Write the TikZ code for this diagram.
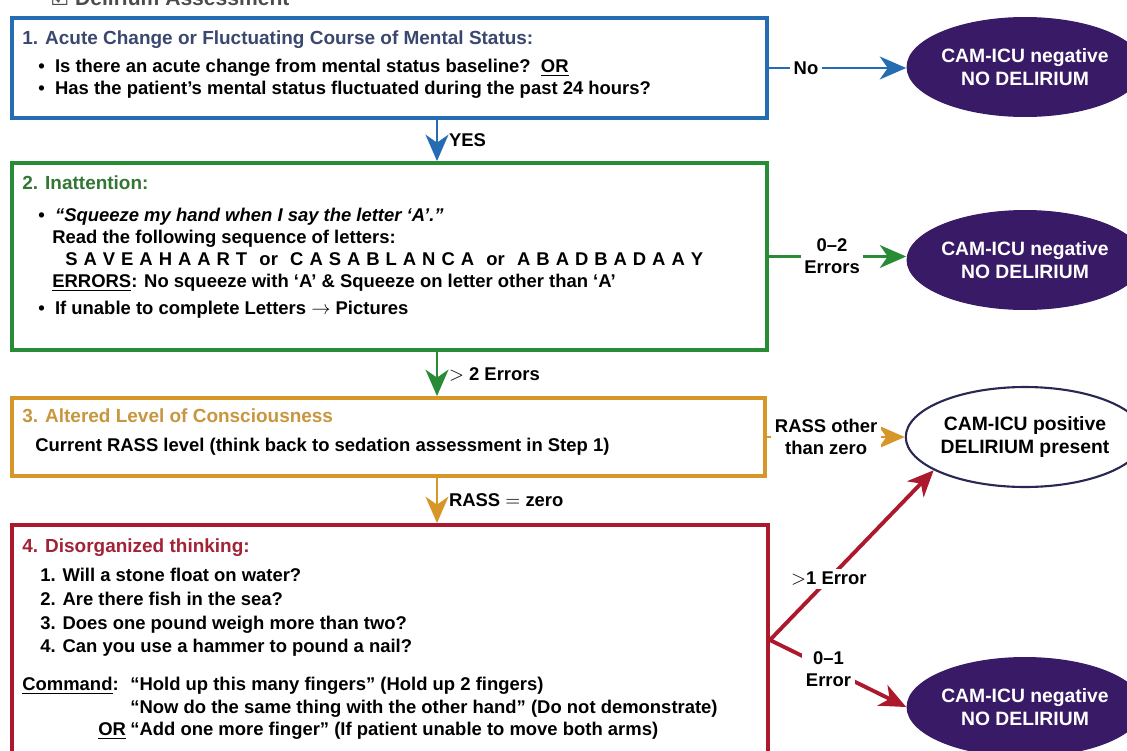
\documentclass[tikz,border=0pt]{standalone}
\usepackage{fontspec}
\setmainfont{Liberation Sans}
\newfontfamily\symfont{DejaVu Sans}
\usepackage{tikz}
\usetikzlibrary{positioning, arrows.meta, shapes.geometric, fit}

\definecolor{cblue}{RGB}{38,108,178}
\definecolor{tblue}{RGB}{58,72,112}
\definecolor{cgreen}{RGB}{40,140,55}
\definecolor{tgreen}{RGB}{52,118,52}
\definecolor{corange}{RGB}{214,150,40}
\definecolor{torange}{RGB}{200,150,62}
\definecolor{cred}{RGB}{172,24,44}
\definecolor{tred}{RGB}{162,34,54}
\definecolor{cpurple}{RGB}{56,26,102}
\definecolor{cnavy}{RGB}{40,40,82}

\tikzstyle{stepbox} = [rectangle, inner sep=0pt, line width=2.2pt,
fill=white]
\tikzstyle{txt} = [anchor=mid west, inner sep=0pt,
font=\bfseries\fontsize{10.5}{12.5}\selectfont]
\tikzstyle{steptitle} = [txt, font=\bfseries\fontsize{10.8}{13}\selectfont]
\tikzstyle{lbl} = [fill=white, text=black, align=center, inner sep=2pt,
font=\bfseries\fontsize{10.5}{12.5}\selectfont]
\tikzstyle{verdict} = [ellipse, minimum width=4.5cm,
minimum height=2cm, inner sep=0pt, align=center,
font=\bfseries\fontsize{11}{13}\selectfont]
\tikzstyle{negverdict} = [verdict, fill=cpurple, text=white]
\tikzstyle{posverdict} = [verdict, fill=white, draw=cnavy,
line width=1.2pt]
\tikzstyle{arrow} = [line width=1.7pt,
-{Stealth[length=15pt,width=13pt,inset=4.5pt]}]

\begin{document}
\begin{tikzpicture}[x=0.02cm, y=-0.02cm]
\useasboundingbox (0,0) rectangle (1127,751);

\node[anchor=base west, inner sep=0pt,
font=\bfseries\fontsize{12}{14}\selectfont, text=black!70] (head)
at (50,5) {{\symfont ☑}\ Delirium Assessment};

% step boxes
\node (b1) [stepbox, draw=cblue, fit={(12,18) (767,118)}] {};
\node (b2) [stepbox, draw=cgreen, fit={(12,163) (767,350)}] {};
\node (b3) [stepbox, draw=corange, fit={(12,398) (765,476)}] {};
\node (b4) [stepbox, draw=cred, fit={(12,525) (768,755)}] {};

% step 1
\node (t1) [steptitle, text=tblue] at (22,40)
{1. Acute Change or Fluctuating Course of Mental Status:};
\node (q1a) [txt] at (38,68)
{\textbullet\ \ Is there an acute change from mental status baseline?\ \ \underline{OR}};
\node (q1b) [txt] at (38,90)
{\textbullet\ \ Has the patient’s mental status fluctuated during the past 24 hours?};

% step 2
\node (t2) [steptitle, text=tgreen] at (22,185) {2. Inattention:};
\node (q2a) [txt] at (38,217)
{\textbullet\ \ \textit{“Squeeze my hand when I say the letter ‘A’.”}};
\node (q2b) [txt] at (52,239) {Read the following sequence of letters:};
\node (q2c) [txt] at (65,261)
{{\spaceskip=3.4pt S A V E A H A A R T\hspace{7pt}or\hspace{7pt}C A S A B L A N C A\hspace{7pt}or\hspace{7pt}A B A D B A D A A Y}};
\node (q2d) [txt] at (52,283)
{\underline{ERRORS}: No squeeze with ‘A’ \& Squeeze on letter other than ‘A’};
\node (q2e) [txt] at (38,310)
{\textbullet\ \ If unable to complete Letters $\rightarrow$ Pictures};

% step 3
\node (t3) [steptitle, text=torange] at (22,418)
{3. Altered Level of Consciousness};
\node (q3) [txt] at (35,447)
{Current RASS level (think back to sedation assessment in Step 1)};

% step 4
\node (t4) [steptitle, text=tred] at (22,548) {4. Disorganized thinking:};
\node (q4a) [txt] at (40,577) {1. Will a stone float on water?};
\node (q4b) [txt] at (40,601) {2. Are there fish in the sea?};
\node (q4c) [txt] at (40,625) {3. Does one pound weigh more than two?};
\node (q4d) [txt] at (40,648) {4. Can you use a hammer to pound a nail?};
\node (cmd) [txt] at (22,686) {\underline{Command}:};
\node (c4a) [txt] at (130,686)
{“Hold up this many fingers” (Hold up 2 fingers)};
\node (c4b) [txt] at (130,709)
{“Now do the same thing with the other hand” (Do not demonstrate)};
\node (or4) [txt] at (98,731) {\underline{OR}};
\node (c4c) [txt] at (130,731)
{“Add one more finger” (If patient unable to move both arms)};

% outcomes
\node (e1) [negverdict] at (1025,67) {CAM-ICU negative\\NO DELIRIUM};
\node (e2) [negverdict] at (1025,260) {CAM-ICU negative\\NO DELIRIUM};
\node (e3) [posverdict] at (1025,437) {CAM-ICU positive\\DELIRIUM present};
\node (e4) [negverdict] at (1025,707) {CAM-ICU negative\\NO DELIRIUM};

\coordinate (spine) at (437,0);

% flow down
\draw [arrow, cblue] (b1.south -| spine) -- node[lbl, right=4pt,
fill=none] {YES} (b2.north -| spine);
\draw [arrow, cgreen] (b2.south -| spine) -- node[lbl, right=4pt,
fill=none] {$>$ 2 Errors} (b3.north -| spine);
\draw [arrow, corange] (b3.south -| spine) -- node[lbl, right=4pt,
fill=none] {RASS $=$ zero} (b4.north -| spine);

% exits
\draw [arrow, cblue] (b1.east) -- node[lbl, pos=0.27] {No}
(b1.east -| e1.west);
\draw [arrow, cgreen] (b2.east) -- node[lbl, pos=0.46]
{0--2\\Errors} (b2.east -| e2.west);
\draw [arrow, corange] (b3.east) -- node[lbl, pos=0.43]
{RASS other\\than zero} (b3.east -| e3.west);
\draw [arrow, cred, line width=2.2pt] (b4.east) -- node[lbl, pos=0.36]
{$>$1 Error} (e3.200);
\draw [arrow, cred, line width=2.2pt] (b4.east) -- node[lbl, pos=0.43]
{0--1\\Error} (e4.west);

\end{tikzpicture}
\end{document}
